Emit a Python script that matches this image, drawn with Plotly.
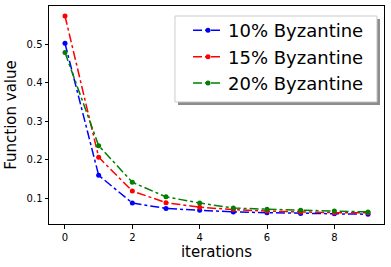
import plotly.graph_objects as go

iterations = list(range(10))
byz10 = [0.502, 0.159, 0.087, 0.073, 0.068, 0.064, 0.062, 0.060, 0.059, 0.058]
byz15 = [0.573, 0.206, 0.118, 0.088, 0.076, 0.070, 0.066, 0.064, 0.062, 0.062]
byz20 = [0.478, 0.236, 0.141, 0.103, 0.087, 0.074, 0.071, 0.068, 0.066, 0.064]
names = ["10% Byzantine", "15% Byzantine", "20% Byzantine"]
colors = ["#0000ff", "#ff0000", "#008000"]

fig = go.Figure()
for ys, name, c in zip([byz10, byz15, byz20], names, colors):
    fig.add_trace(go.Scatter(
        x=iterations, y=ys, name=name, mode="lines+markers",
        line=dict(color=c, width=1.5, dash="dashdot"),
        marker=dict(color=c, size=5, symbol="circle"),
    ))

axis_common = dict(
    showline=True, mirror=True, linecolor="black", linewidth=1,
    ticks="outside", ticklen=3.5, tickcolor="black", tickwidth=1,
    showgrid=False, zeroline=False, automargin=False,
    tickfont=dict(family="DejaVu Sans", size=10, color="black"),
)
fig.update_xaxes(range=[-0.475, 9.475], tickvals=[0, 2, 4, 6, 8],
                 title=dict(text="iterations", font=dict(family="DejaVu Sans", size=15, color="black"), standoff=4),
                 **axis_common)
fig.update_yaxes(range=[0.0325, 0.599], tickvals=[0.1, 0.2, 0.3, 0.4, 0.5],
                 tickformat=".1f",
                 title=dict(text="Function value", font=dict(family="DejaVu Sans", size=15, color="black"), standoff=6),
                 **axis_common)

# legend frame with shadow
fig.add_shape(type="rect", xref="paper", yref="paper",
              x0=0.385, x1=0.988, y0=0.546, y1=0.940,
              fillcolor="rgba(0,0,0,0.45)", line=dict(width=0), layer="above")
fig.add_shape(type="rect", xref="paper", yref="paper",
              x0=0.376, x1=0.979, y0=0.560, y1=0.954,
              fillcolor="white", line=dict(color="#cccccc", width=1), layer="above")

fig.update_layout(
    width=391, height=267,
    margin=dict(l=49, r=7, t=6, b=43, autoexpand=False),
    plot_bgcolor="white", paper_bgcolor="white",
    legend=dict(x=0.415, y=0.972, xanchor="left", yanchor="top",
                bgcolor="rgba(0,0,0,0)", borderwidth=0,
                font=dict(family="DejaVu Sans", size=18, color="black")),
)

fig.write_html("out.html", config={"displayModeBar": False},
               post_script="document.body.style.margin='0';")
